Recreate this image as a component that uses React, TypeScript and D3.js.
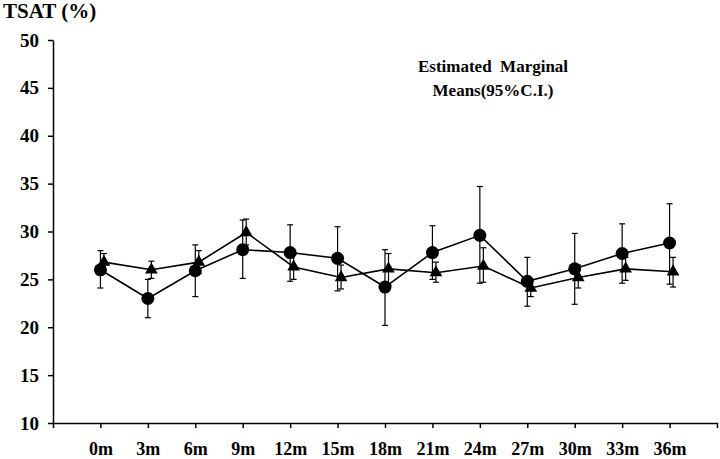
import React, { useEffect, useRef } from 'react';
import * as d3 from 'd3';

const months = ['0m', '3m', '6m', '9m', '12m', '15m', '18m', '21m', '24m', '27m', '30m', '33m', '36m'];
const yTicks = [10, 15, 20, 25, 30, 35, 40, 45, 50];

// circle series
const circleMean = [26.0, 23.0, 25.9, 28.1, 27.8, 27.2, 24.2, 27.8, 29.6, 24.8, 26.1, 27.7, 28.8];
const circleLow = [24.1, 21.0, 23.2, 25.1, 24.8, 23.8, 20.2, 25.0, 24.6, 22.2, 22.4, 24.6, 24.5];
const circleHigh = [28.0, 25.0, 28.6, 31.2, 30.7, 30.5, 28.1, 30.6, 34.7, 27.3, 29.8, 30.8, 32.9];

// triangle series
const triMean = [26.8, 26.0, 26.8, 29.9, 26.3, 25.2, 26.1, 25.7, 26.4, 24.1, 25.2, 26.1, 25.8];
const triLow = [25.9, 25.1, 25.6, 28.6, 25.0, 24.0, 24.4, 24.7, 24.7, 23.2, 24.1, 24.9, 24.2];
const triHigh = [27.7, 26.9, 28.0, 31.3, 27.6, 26.5, 27.7, 26.8, 28.3, 25.0, 26.5, 27.3, 27.3];

const FONT = 'Liberation Serif, DejaVu Serif, serif';

export default function App() {
  const svgRef = useRef<SVGSVGElement>(null);

  useEffect(() => {
    if (!svgRef.current) return;
    const svg = d3.select(svgRef.current);
    svg.selectAll('*').remove();

    const left = 53, right = 717, top = 40, bottom = 423;

    const x = d3.scalePoint<string>()
      .domain(months)
      .range([left, right])
      .padding(1);

    const y = d3.scaleLinear()
      .domain([10, 50])
      .range([bottom, top]);

    // axes
    const yAxis = svg.append('g')
      .attr('transform', `translate(${left},0)`)
      .call(d3.axisLeft(y).tickValues(yTicks).tickSize(5).tickSizeOuter(0).tickPadding(9));
    yAxis.attr('font-family', FONT).attr('font-size', 19).attr('font-weight', 'bold');
    yAxis.select('.domain').attr('stroke', '#000').attr('stroke-width', 1.5);
    yAxis.selectAll('.tick line').attr('stroke', '#000').attr('stroke-width', 1.5);
    yAxis.selectAll('.tick text').attr('fill', '#000');

    const xAxis = svg.append('g')
      .attr('transform', `translate(0,${bottom})`)
      .call(d3.axisBottom(x).tickSize(5).tickSizeOuter(5).tickPadding(14));
    xAxis.attr('font-family', FONT).attr('font-size', 18).attr('font-weight', 'bold');
    xAxis.select('.domain').attr('stroke', '#000').attr('stroke-width', 1.5);
    xAxis.selectAll('.tick line').attr('stroke', '#000').attr('stroke-width', 1.5);
    xAxis.selectAll('.tick text').attr('fill', '#000');

    const series = [
      { mean: circleMean, low: circleLow, high: circleHigh, dx: 0, shape: 'circle' },
      { mean: triMean, low: triLow, high: triHigh, dx: 3.5, shape: 'triangle' },
    ];

    series.forEach(s => {
      const idx = d3.range(months.length);
      const px = (i: number) => x(months[i])! + s.dx;

      // error bars
      const eb = svg.append('g').attr('stroke', '#000').attr('stroke-width', 1.2);
      eb.selectAll(null)
        .data(idx)
        .enter()
        .append('line')
        .attr('x1', px).attr('x2', px)
        .attr('y1', i => y(s.low[i])).attr('y2', i => y(s.high[i]));
      [s.low, s.high].forEach(arr => {
        eb.selectAll(null)
          .data(idx)
          .enter()
          .append('line')
          .attr('x1', i => px(i) - 3).attr('x2', i => px(i) + 3)
          .attr('y1', i => y(arr[i])).attr('y2', i => y(arr[i]));
      });

      // connecting line
      const line = d3.line<number>()
        .x(i => px(i))
        .y(i => y(s.mean[i]));
      svg.append('path')
        .datum(idx)
        .attr('fill', 'none')
        .attr('stroke', '#000')
        .attr('stroke-width', 1.6)
        .attr('d', line);

      // markers
      if (s.shape === 'circle') {
        svg.selectAll(null)
          .data(idx)
          .enter()
          .append('circle')
          .attr('cx', px)
          .attr('cy', i => y(s.mean[i]))
          .attr('r', 6.5)
          .attr('fill', '#000');
      } else {
        const tri = d3.symbol().type(d3.symbolTriangle).size(70);
        svg.selectAll(null)
          .data(idx)
          .enter()
          .append('path')
          .attr('d', tri()!)
          .attr('transform', i => `translate(${px(i)},${y(s.mean[i])})`)
          .attr('fill', '#000');
      }
    });

    // title
    svg.append('text')
      .attr('x', 3)
      .attr('y', 18)
      .attr('font-family', FONT)
      .attr('font-weight', 'bold')
      .attr('font-size', 21)
      .text('TSAT (%)');

    // annotation
    const note = svg.append('text')
      .attr('text-anchor', 'middle')
      .attr('font-family', FONT)
      .attr('font-weight', 'bold')
      .attr('font-size', 17)
      .attr('xml:space', 'preserve');
    note.append('tspan').attr('x', 493).attr('y', 72).text('Estimated  Marginal');
    note.append('tspan').attr('x', 493).attr('y', 96).text('Means(95%C.I.)');
  }, []);

  return (
    <svg
      ref={svgRef}
      width={720}
      height={459}
      style={{ position: 'absolute', left: 0, top: 0, background: '#fff' }}
    />
  );
}
